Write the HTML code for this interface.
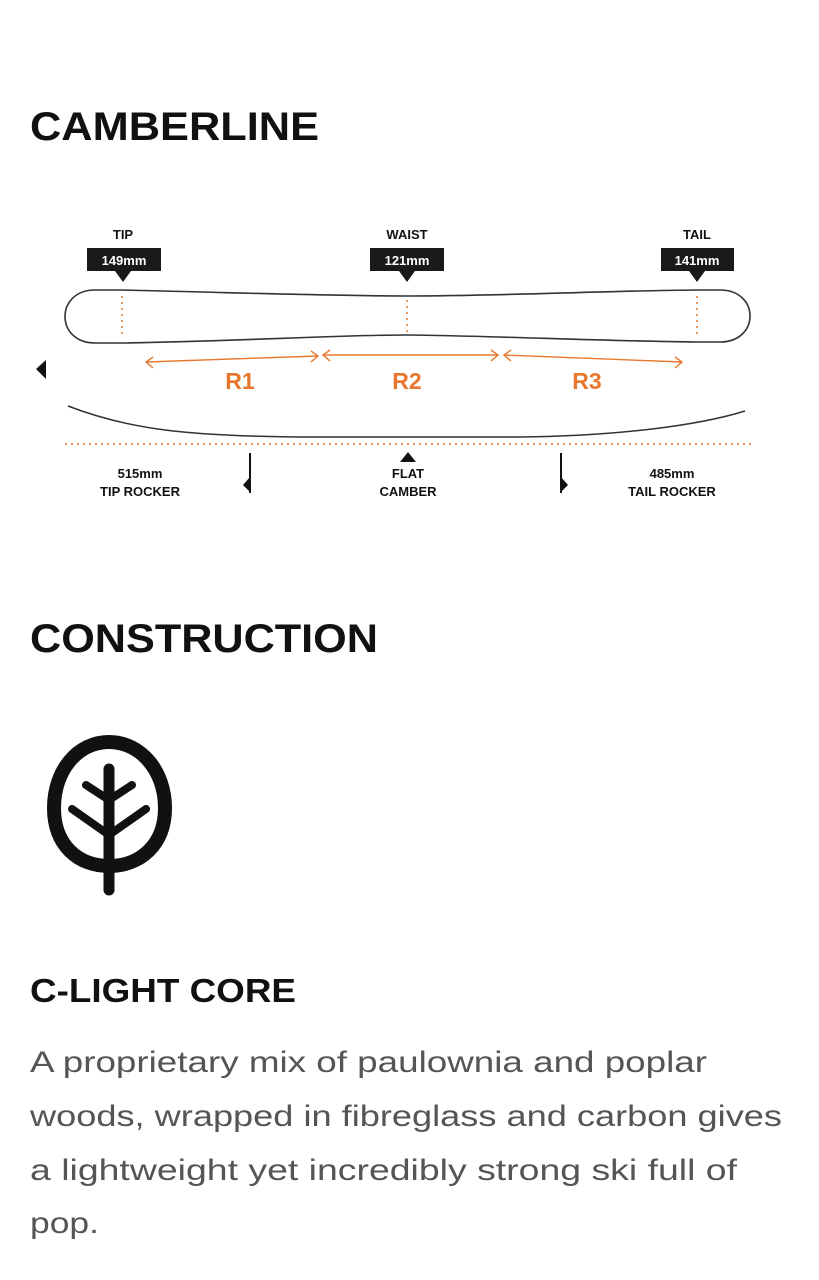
<!DOCTYPE html>
<html><head><meta charset="utf-8"><style>
html,body{margin:0;padding:0;background:#fff;}
body{width:819px;height:1280px;overflow:hidden;position:relative;}
svg{position:absolute;left:0;top:0;}
.h{font-family:"Liberation Sans",sans-serif;font-weight:bold;fill:#111;}
.s{font-family:"Liberation Sans",sans-serif;font-weight:bold;font-size:13px;fill:#111;}
.b{font-family:"Liberation Sans",sans-serif;font-size:30px;fill:#555;}
.o{font-family:"Liberation Sans",sans-serif;font-weight:bold;font-size:23px;fill:#e8772e;}
</style></head><body>
<svg width="819" height="1280" viewBox="0 0 819 1280">
<text class="h" x="30" y="140" font-size="40" textLength="289" lengthAdjust="spacingAndGlyphs">CAMBERLINE</text>
<text class="h" x="30" y="652" font-size="40" textLength="348" lengthAdjust="spacingAndGlyphs">CONSTRUCTION</text>
<text class="h" x="30" y="1002" font-size="33" textLength="266" lengthAdjust="spacingAndGlyphs">C-LIGHT CORE</text>

<text class="s" x="123" y="239" text-anchor="middle">TIP</text>
<rect x="87" y="248" width="74" height="23" fill="#1a1a1a"/>
<text x="124" y="265" text-anchor="middle" font-family="Liberation Sans" font-weight="bold" font-size="13" fill="#fff">149mm</text>
<polygon points="115,271 131,271 123,282" fill="#1a1a1a"/>

<text class="s" x="407" y="239" text-anchor="middle">WAIST</text>
<rect x="370" y="248" width="74" height="23" fill="#1a1a1a"/>
<text x="407" y="265" text-anchor="middle" font-family="Liberation Sans" font-weight="bold" font-size="13" fill="#fff">121mm</text>
<polygon points="399,271 415,271 407,282" fill="#1a1a1a"/>

<text class="s" x="697" y="239" text-anchor="middle">TAIL</text>
<rect x="661" y="248" width="73" height="23" fill="#1a1a1a"/>
<text x="697" y="265" text-anchor="middle" font-family="Liberation Sans" font-weight="bold" font-size="13" fill="#fff">141mm</text>
<polygon points="689,271 705,271 697,282" fill="#1a1a1a"/>

<path d="M122,290 C250,293 330,296 407,296 C500,296 600,291 697,290 L720,290 C760,290 760,342 720,342 L697,342 C600,341 500,336 407,335 C330,335 250,341 122,343 L95,343 C55,343 55,290 95,290 Z" fill="none" stroke="#333" stroke-width="1.6"/>
<g stroke="#e8772e" stroke-width="1.5" stroke-dasharray="2,4">
<line x1="122" y1="296" x2="122" y2="338"/>
<line x1="407" y1="300" x2="407" y2="332"/>
<line x1="697" y1="296" x2="697" y2="338"/>
<line x1="65" y1="444" x2="752" y2="444"/>
</g>
<g stroke="#e8772e" stroke-width="1.4" fill="none">
<line x1="146" y1="362" x2="318" y2="356"/>
<polyline points="153,357 146,362 153,368"/>
<polyline points="311,351 318,356 311,362"/>
<line x1="323" y1="355" x2="498" y2="355"/>
<polyline points="330,350 323,355 330,361"/>
<polyline points="491,350 498,355 491,361"/>
<line x1="504" y1="355" x2="682" y2="362"/>
<polyline points="511,350 504,355 511,361"/>
<polyline points="675,357 682,362 675,368"/>
</g>
<text class="o" x="240" y="389" text-anchor="middle">R1</text>
<text class="o" x="407" y="389" text-anchor="middle">R2</text>
<text class="o" x="587" y="389" text-anchor="middle">R3</text>
<polygon points="46,360 46,379 36,369" fill="#111"/>

<path d="M68,406 C130,430 190,436 300,437 L520,437 C620,436 700,425 745,411" fill="none" stroke="#333" stroke-width="1.5"/>
<polygon points="400,462 416,462 408,452" fill="#111"/>
<text class="s" x="408" y="478" text-anchor="middle">FLAT</text>
<text class="s" x="408" y="496" text-anchor="middle">CAMBER</text>
<text class="s" x="140" y="478" text-anchor="middle">515mm</text>
<text class="s" x="140" y="496" text-anchor="middle">TIP ROCKER</text>
<text class="s" x="672" y="478" text-anchor="middle">485mm</text>
<text class="s" x="672" y="496" text-anchor="middle">TAIL ROCKER</text>
<line x1="250" y1="453" x2="250" y2="493" stroke="#111" stroke-width="2"/>
<polygon points="250,477 250,492 243,485" fill="#111"/>
<line x1="561" y1="453" x2="561" y2="493" stroke="#111" stroke-width="2"/>
<polygon points="561,477 561,492 568,485" fill="#111"/>

<path d="M109,742 C140,742 165,770 165,808 C165,845 140,866 109,866 C78,866 54,845 54,808 C54,770 78,742 109,742 Z" fill="none" stroke="#111" stroke-width="14"/>
<g stroke="#111" stroke-linecap="round" fill="none">
<line x1="109" y1="769" x2="109" y2="890" stroke-width="11"/>
<line x1="109" y1="800" x2="86" y2="785" stroke-width="8"/>
<line x1="109" y1="800" x2="132" y2="785" stroke-width="8"/>
<line x1="109" y1="835" x2="72" y2="809" stroke-width="8"/>
<line x1="109" y1="835" x2="146" y2="809" stroke-width="8"/>
</g>

<text class="b" x="30" y="1072" textLength="677" lengthAdjust="spacingAndGlyphs">A proprietary mix of paulownia and poplar</text>
<text class="b" x="30" y="1126" textLength="752" lengthAdjust="spacingAndGlyphs">woods, wrapped in fibreglass and carbon gives</text>
<text class="b" x="30" y="1180" textLength="707" lengthAdjust="spacingAndGlyphs">a lightweight yet incredibly strong ski full of</text>
<text class="b" x="30" y="1233" textLength="69" lengthAdjust="spacingAndGlyphs">pop.</text>
</svg>
</body></html>
